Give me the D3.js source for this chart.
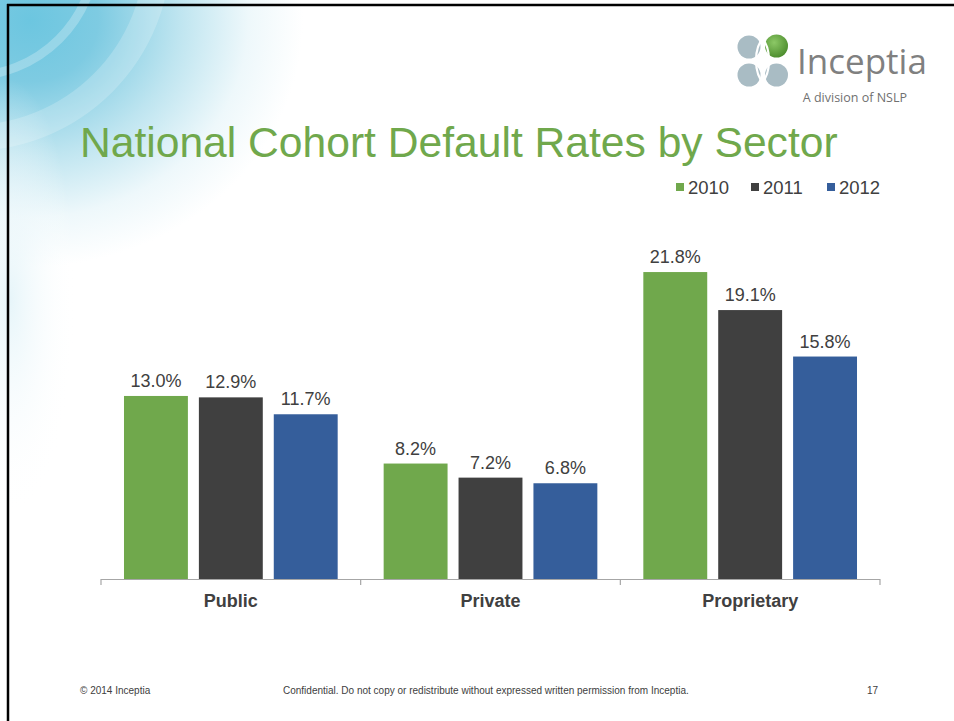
<!DOCTYPE html>
<html>
<head>
<meta charset="utf-8">
<script src="https://cdn.jsdelivr.net/npm/d3@7"></script>
<style>
  html, body { margin: 0; padding: 0; background: #fff; }
  svg { display: block; }
</style>
</head>
<body>
<svg id="slide" width="954" height="721"></svg>
<script>
// Cohort default rates by sector, three cohort years
const sectors = ["Public", "Private", "Proprietary"];
const years = ["2010", "2011", "2012"];
const rates2010 = [13.0, 8.2, 21.8];
const rates2011 = [12.9, 7.2, 19.1];
const rates2012 = [11.7, 6.8, 15.8];
const yearColors = ["#70a84c", "#404040", "#355e9b"];

const seriesValues = [rates2010, rates2011, rates2012];
const rows = sectors.map((s, i) => ({
  sector: s,
  values: years.map((y, j) => ({ year: y, value: seriesValues[j][i] }))
}));

const svg = d3.select("#slide");
const defs = svg.append("defs");

// Soft blue wash in the upper-left corner of the slide
const grad = defs.append("radialGradient")
  .attr("id", "wash")
  .attr("gradientUnits", "userSpaceOnUse")
  .attr("cx", 30).attr("cy", 20).attr("r", 260)
  .attr("gradientTransform", "translate(30,20) scale(1.05,0.95) translate(-30,-20)");
grad.append("stop").attr("offset", "0%").attr("stop-color", "#6cc6e0");
grad.append("stop").attr("offset", "25%").attr("stop-color", "#7ecbe2");
grad.append("stop").attr("offset", "55%").attr("stop-color", "#bfe5f0");
grad.append("stop").attr("offset", "80%").attr("stop-color", "#eef8fb");
grad.append("stop").attr("offset", "100%").attr("stop-color", "#ffffff");
svg.append("rect").attr("x", 0).attr("y", 0).attr("width", 954).attr("height", 721).attr("fill", "#fff");
svg.append("rect").attr("x", 0).attr("y", 0).attr("width", 420).attr("height", 420).attr("fill", "url(#wash)");

// Faint haze trailing down the left edge
const haze = defs.append("radialGradient").attr("id", "haze")
  .attr("gradientUnits", "userSpaceOnUse")
  .attr("cx", 10).attr("cy", 300).attr("r", 220)
  .attr("gradientTransform", "translate(10,300) scale(0.3,1) translate(-10,-300)");
haze.append("stop").attr("offset", "0%").attr("stop-color", "#e4f4f9").attr("stop-opacity", 0.9);
haze.append("stop").attr("offset", "100%").attr("stop-color", "#ffffff").attr("stop-opacity", 0);
svg.append("rect").attr("x", 0).attr("y", 60).attr("width", 120).attr("height", 480).attr("fill", "url(#haze)");

// Pale swoosh arcs over the wash
const arcs = svg.append("g").attr("fill", "none").attr("stroke", "#ffffff");
arcs.append("circle").attr("cx", -30).attr("cy", -50).attr("r", 126).attr("stroke-width", 9).attr("stroke-opacity", 0.25);
arcs.append("circle").attr("cx", -30).attr("cy", -50).attr("r", 188).attr("stroke-width", 26).attr("stroke-opacity", 0.2);

// Slide frame (top and left edges)
svg.append("line").attr("x1", 7).attr("x2", 954).attr("y1", 5).attr("y2", 5).attr("stroke", "#000").attr("stroke-width", 2.5);
svg.append("line").attr("x1", 8).attr("x2", 8).attr("y1", 4).attr("y2", 721).attr("stroke", "#000").attr("stroke-width", 2.5);

// Logo mark
const logo = svg.append("g");
const blob = "#a9bcc4";
const gGrad = defs.append("radialGradient").attr("id", "gball").attr("cx", "40%").attr("cy", "35%").attr("r", "65%");
gGrad.append("stop").attr("offset", "0%").attr("stop-color", "#8cc866");
gGrad.append("stop").attr("offset", "100%").attr("stop-color", "#4f8f30");
[[749, 47, blob], [776.5, 46, "url(#gball)"], [749, 75, blob], [776.5, 75, blob]].forEach(([cx, cy, c]) => {
  logo.append("circle").attr("cx", cx).attr("cy", cy).attr("r", 11.5).attr("fill", c);
});
logo.append("path")
  .attr("d", "M768,33 C752,45 752,76 768,88")
  .attr("fill", "none").attr("stroke", "#fff").attr("stroke-width", 2.2);
logo.append("path")
  .attr("d", "M757,33 C773,45 773,76 757,88")
  .attr("fill", "none").attr("stroke", "#fff").attr("stroke-width", 2.2);

svg.append("text").attr("x", 797).attr("y", 74)
  .attr("font-family", "'Open Sans', 'Noto Sans', sans-serif").attr("font-size", 35)
  .attr("fill", "#808080").text("Inceptia");
svg.append("text").attr("x", 907).attr("y", 102).attr("text-anchor", "end")
  .attr("font-family", "'Open Sans', 'Noto Sans', sans-serif").attr("font-size", 12.5)
  .attr("fill", "#707070").text("A division of NSLP");

// Title
svg.append("text").attr("x", 80).attr("y", 157)
  .attr("font-family", "'Liberation Sans', Arial, sans-serif").attr("font-size", 42.6)
  .attr("fill", "#70a84c").text("National Cohort Default Rates by Sector");

// Chart area
const x0 = d3.scaleBand().domain(sectors).range([101, 880]).paddingInner(0).paddingOuter(0);
const x1 = d3.scaleBand().domain(years).range([0, x0.bandwidth()]).paddingInner(0.1467).paddingOuter(0.307);
const y = d3.scaleLinear().domain([0, 25]).range([579, 227]);

const groups = svg.append("g").selectAll("g").data(rows).join("g")
  .attr("transform", d => `translate(${x0(d.sector)},0)`);

groups.selectAll("rect").data(d => d.values).join("rect")
  .attr("x", d => x1(d.year))
  .attr("y", d => y(d.value))
  .attr("width", x1.bandwidth())
  .attr("height", d => y(0) - y(d.value))
  .attr("fill", (d, i) => yearColors[i]);

groups.selectAll("text").data(d => d.values).join("text")
  .attr("x", d => x1(d.year) + x1.bandwidth() / 2)
  .attr("y", d => y(d.value) - 9)
  .attr("text-anchor", "middle")
  .attr("font-family", "'Liberation Sans', Arial, sans-serif").attr("font-size", 18)
  .attr("fill", "#404040")
  .text(d => d3.format(".1f")(d.value) + "%");

// Category axis with boundary ticks
const axis = svg.append("g").attr("transform", `translate(0,${y(0)})`);
axis.append("line").attr("x1", x0.range()[0]).attr("x2", x0.range()[1])
  .attr("y1", 0.5).attr("y2", 0.5).attr("stroke", "#a6a6a6").attr("stroke-width", 1.2);
const bounds = sectors.map(s => x0(s)).concat([x0.range()[1]]);
axis.selectAll("line.tick").data(bounds).join("line").attr("class", "tick")
  .attr("x1", d => d).attr("x2", d => d).attr("y1", 0).attr("y2", 6)
  .attr("stroke", "#a6a6a6").attr("stroke-width", 1.2);
axis.selectAll("text").data(sectors).join("text")
  .attr("x", d => x0(d) + x0.bandwidth() / 2)
  .attr("y", 28)
  .attr("text-anchor", "middle")
  .attr("font-family", "'Liberation Sans', Arial, sans-serif").attr("font-size", 18)
  .attr("font-weight", "bold").attr("fill", "#404040")
  .text(d => d);

// Legend
const legendX = [676, 751, 827];
const legend = svg.append("g").selectAll("g").data(years).join("g")
  .attr("transform", (d, i) => `translate(${legendX[i]},0)`);
legend.append("rect").attr("x", 0).attr("y", 183).attr("width", 8).attr("height", 8)
  .attr("fill", (d, i) => yearColors[i]);
legend.append("text").attr("x", 12).attr("y", 194)
  .attr("font-family", "'Liberation Sans', Arial, sans-serif").attr("font-size", 18.5)
  .attr("fill", "#404040").text(d => d);

// Footer
const foot = "'Liberation Sans Narrow', 'Liberation Sans', Arial, sans-serif";
svg.append("text").attr("x", 80).attr("y", 694).attr("font-family", foot).attr("font-size", 10)
  .attr("fill", "#404040").text("© 2014 Inceptia");
svg.append("text").attr("x", 283).attr("y", 694).attr("font-family", foot).attr("font-size", 10)
  .attr("fill", "#404040").text("Confidential. Do not copy or redistribute without expressed written permission from Inceptia.");
svg.append("text").attr("x", 878).attr("y", 694).attr("text-anchor", "end").attr("font-family", foot).attr("font-size", 10)
  .attr("fill", "#404040").text("17");
</script>
</body>
</html>
